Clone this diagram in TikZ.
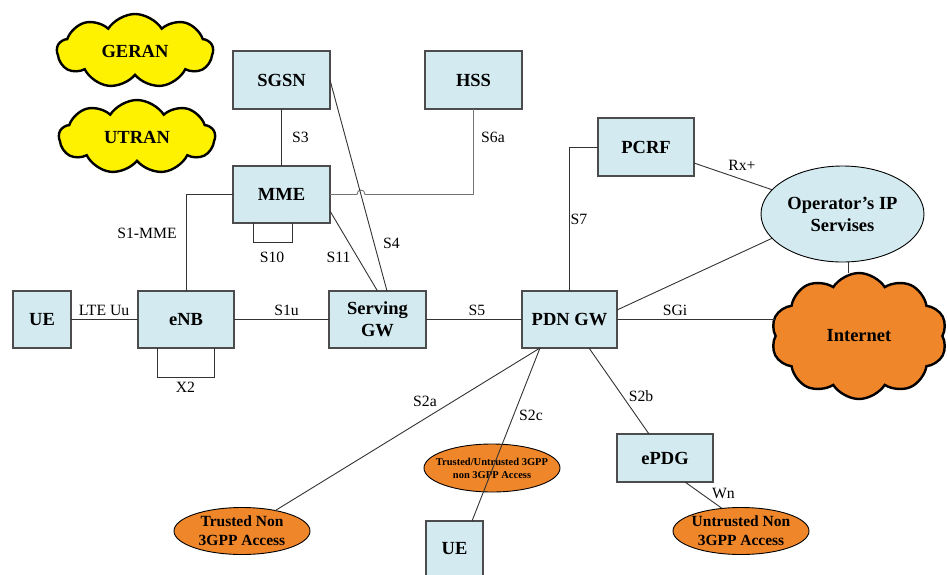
\documentclass[tikz,border=0pt]{standalone}
\usepackage{fontspec}
\setmainfont{Liberation Serif}
\usetikzlibrary{shapes.symbols,shapes.geometric}
\definecolor{boxblue}{HTML}{D3EAF0}
\definecolor{cloudorange}{HTML}{F0862A}
\definecolor{lineg}{HTML}{333333}
\tikzset{
  ent/.style={draw=black!70, line width=1.1pt, fill=boxblue, inner sep=0pt, outer sep=0pt,
    font=\fontsize{18.5}{22}\selectfont\bfseries, align=center},
  oval/.style={ellipse, draw=black, line width=0.9pt, fill=cloudorange, inner ysep=0pt, inner xsep=-4pt, outer sep=0pt,
    font=\fontsize{15.5}{19}\selectfont\bfseries, align=center},
  puff/.style={cloud, cloud puffs=9, cloud puff arc=115, aspect=2, draw=black, line width=2.4pt,
    inner sep=0pt, outer sep=0pt, font=\fontsize{18.5}{22}\selectfont\bfseries},
  conn/.style={draw=lineg, line width=0.9pt},
  lbl/.style={inner sep=0pt, font=\fontsize{15.7}{18}\selectfont},
}
\begin{document}
\begin{tikzpicture}[x=1pt,y=-1pt]
\useasboundingbox (0,0) rectangle (948,574);
% clouds
\node[puff, fill=yellow, minimum width=156, minimum height=74] (geran) at (135,51) {GERAN};
\node[puff, fill=yellow, minimum width=156, minimum height=74] (utran) at (137,137) {UTRAN};
\node[puff, fill=cloudorange, cloud puffs=10, minimum width=176, minimum height=126] (inet) at (859,336) {Internet};
% boxes
\node[ent, minimum width=97, minimum height=58] (sgsn) at (281.5,80) {SGSN};
\node[ent, minimum width=97, minimum height=58] (hss) at (473.5,80) {HSS};
\node[ent, minimum width=97, minimum height=57] (mme) at (281.5,194.5) {MME};
\node[ent, minimum width=96, minimum height=58] (pcrf) at (646,147) {PCRF};
\node[ent, minimum width=58, minimum height=57] (ue) at (42,319.5) {UE};
\node[ent, minimum width=96, minimum height=57] (enb) at (186,319.5) {eNB};
\node[ent, minimum width=97, minimum height=57] (sgw) at (377.5,319.5) {Serving\\GW};
\node[ent, minimum width=95, minimum height=57] (pdn) at (569.5,319.5) {PDN GW};
\node[ent, minimum width=96, minimum height=48] (epdg) at (665,458) {ePDG};
\node[ent, minimum width=57, minimum height=62, anchor=north] (ue2) at (454.5,521) {};
\node[font=\fontsize{18.5}{22}\selectfont\bfseries, inner sep=0pt] (ue2t) at (454.5,549) {UE};
% ellipses
\node[ellipse, draw=black, line width=0.9pt, fill=boxblue, inner sep=0pt, outer sep=0pt,
  minimum width=163, minimum height=96, font=\fontsize{18.5}{22}\selectfont\bfseries, align=center]
  (ops) at (842.5,214) {Operator’s IP\\Servises};
\node[oval, minimum width=136, minimum height=47] (tn) at (242,531) {Trusted Non\\3GPP Access};
\node[oval, minimum width=136, minimum height=47] (un) at (741,531) {Untrusted Non\\3GPP Access};
\node[oval, inner xsep=-9pt, minimum width=136, minimum height=48, font=\fontsize{10.5}{13}\selectfont\bfseries] (tu) at (492,468) {Trusted/Untrusted 3GPP\\non 3GPP Access};
% connectors
\draw[conn] (sgsn.south) -- (mme.north);
\draw[conn] (mme.west) -| (enb.north);
\draw[conn, draw=black!55] (mme.east) -- (357,194.5) .. controls (357,188.5) and (365,188.5) .. (365,194.5) -| (hss.south);
\draw[conn] (sgsn.east) -- ([xshift=9.5]sgw.north);
\draw[conn] ([yshift=-16.5]mme.east) -- (sgw.north);
\draw[conn] ([xshift=-28.5]mme.south) -- ++(0,19) -| ([xshift=10.5]mme.south);
\draw[conn] (ue.east) -- (enb.west);
\draw[conn] ([xshift=-29]enb.south) -- ++(0,29) -| ([xshift=28]enb.south);
\draw[conn] (enb.east) -- (sgw.west);
\draw[conn] (sgw.east) -- (pdn.west);
\draw[conn] (pcrf.west) -| (pdn.north);
\draw[conn] ([yshift=-16]pcrf.east) -- (ops.161);
\draw[conn] ([yshift=9.5]pdn.east) -- (ops.199);
\draw[conn] ([xshift=5.5]ops.south) -- ([xshift=5.5]ops.south |- inet.north);
\draw[conn] (pdn.east) -- (pdn.east -| inet.west);
\draw[conn] ([xshift=-29.5]pdn.south) -- (tn);
\draw[conn] ([xshift=-29.5]pdn.south) -- ([xshift=17.5]ue2.north);
\draw[conn] ([xshift=19.5]pdn.south) -- ([xshift=-16]epdg.north);
\draw[conn] ([xshift=20]epdg.south) -- (un.130);
% labels
\node[lbl] (l3) at (300.5,137) {S3};
\node[lbl] (l1mme) at (147,233) {S1-MME};
\node[lbl] (l10) at (272,257) {S10};
\node[lbl] (l11) at (338.5,257) {S11};
\node[lbl] (l4) at (391.5,243) {S4};
\node[lbl] (l6a) at (493,137.5) {S6a};
\node[lbl] (l7) at (579,219) {S7};
\node[lbl] (lrx) at (742,165.5) {Rx+};
\node[lbl] (luu) at (104,310) {LTE Uu};
\node[lbl] (l1u) at (286.5,310) {S1u};
\node[lbl] (lx2) at (185.5,387) {X2};
\node[lbl] (l2a) at (425,401) {S2a};
\node[lbl] (l5) at (477,310) {S5};
\node[lbl] (lsgi) at (675,310) {SGi};
\node[lbl] (l2c) at (531,415) {S2c};
\node[lbl] (l2b) at (641,396) {S2b};
\node[lbl] (lwn) at (723.5,493) {Wn};
\end{tikzpicture}
\end{document}
